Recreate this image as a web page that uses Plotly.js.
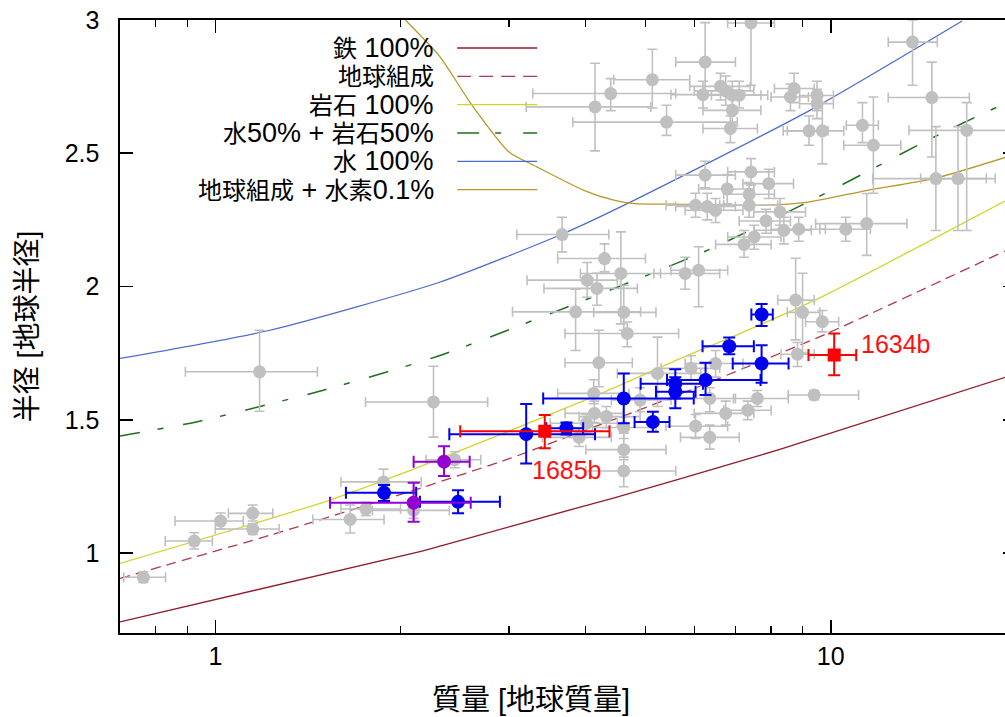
<!DOCTYPE html>
<html>
<head>
<meta charset="utf-8">
<script src="https://cdn.plot.ly/plotly-3.0.1.min.js"></script>
<style>
html,body{margin:0;padding:0;overflow:hidden;background:#fff;}
#chart{width:1016px;height:717px;}
</style>
</head>
<body>
<div id="chart"></div>
<script>
// ---------- model curves ----------
const ironM  = [0.7, 2.15, 2.35, 3.85, 4.42, 7.13, 8.29, 19.3];
const ironR  = [0.742, 1.005, 1.03, 1.168, 1.205, 1.345, 1.39, 1.661];
const earthM = [0.7, 1.24, 2.15, 3.01, 3.68, 5.55, 6.99, 9.87, 19.3];
const earthR = [0.905, 1.07, 1.243, 1.355, 1.43, 1.586, 1.68, 1.824, 2.136];
const rockM  = [0.7, 1.536, 2.15, 4.11, 5.62, 7.13, 9.8, 19.3];
const rockR  = [0.961, 1.199, 1.324, 1.586, 1.724, 1.824, 1.968, 2.324];
const w50M   = [0.7, 0.931, 1.498, 2.35, 6.22, 9.54, 14.72, 19.3];
const w50R   = [1.439, 1.492, 1.611, 1.746, 2.13, 2.336, 2.561, 2.69];
const waterM = [0.7, 1.227, 2.32, 3.68, 4.67, 9.25, 16.35];
const waterR = [1.73, 1.836, 2.017, 2.199, 2.311, 2.661, 2.996];
const hydroM = [2.036, 2.32, 2.6, 3.0, 3.33, 3.97, 4.44, 4.79, 5.56, 7.78, 9.2, 11.47, 14.71, 19.3];
const hydroR = [3.0, 2.861, 2.6875, 2.505, 2.449, 2.361, 2.324, 2.311, 2.309, 2.305, 2.317, 2.361, 2.405, 2.486];

const curveNames = ['鉄 100%', '地球組成', '岩石 100%', '水50% + 岩石50%', '水 100%', '地球組成 + 水素0.1%'];

// ---------- known planets (grey) ----------
const greyM   = [0.764,0.924,1.02,1.15,1.15,1.18,1.656,1.756,1.876,2.1,2.262,2.45,3.66,4.29,4.56,4.02,4.17,3.85,4.61,4.67,4.2,5.23,4.12,4.13,4.32,4.01,4.61,4.61,4.61,3.9,4.9,5.8,6.1,5.93,6.5,6.36,6.75,6.03,6.36,7.33,7.6,8.83,9.4,9.69,8.77,9.0,11.44,10.58,8.87,8.39,14.82,16.1,7.85,8.27,7.42,7.93,7.37,6.79,6.25,6.3,6.5,6.03,7.37,7.23,7.51,7.42,13.58,14.6,16.63,11.73,11.26,9.22,9.69,9.5,9.5,8.72,8.6,6.25,5.13,4.39,4.14,5.41,6.2,6.62,6.75,6.92,7.1,6.92,6.87];
const greyR   = [0.909,1.045,1.12,1.149,1.09,1.68,1.126,1.165,1.267,1.16,1.567,1.35,2.195,2.105,2.049,2.024,1.993,1.905,1.903,1.824,1.714,1.674,1.599,1.524,1.512,1.487,1.471,1.388,1.308,1.434,1.574,2.049,2.061,1.693,1.711,1.58,1.524,1.476,1.434,1.536,1.58,1.746,1.593,1.868,1.949,1.903,2.236,2.215,2.215,2.211,2.405,2.405,2.246,2.28,2.43,2.386,2.346,2.366,2.418,2.3,2.286,2.305,2.305,2.158,2.186,2.989,2.917,2.709,2.586,2.53,2.605,2.584,2.584,2.717,2.686,2.743,2.711,2.842,2.776,2.724,2.674,2.617,2.72,2.751,2.734,2.718,2.718,2.661,2.593];
const greyMlo = [0.71,0.829,0.86,1.05,1.0,0.894,1.44,1.6,1.6,1.8,1.754,2.2,3.09,3.6,3.92,3.21,3.42,3.04,4.12,3.7,3.7,4.5,3.6,3.7,3.9,3.5,4.1,4.0,4.0,3.4,4.4,5.16,5.5,5.3,5.8,5.6,6.0,5.4,5.7,6.7,6.95,8.3,8.53,9.1,8.2,8.5,9.45,9.6,8.0,7.5,11.7,14.0,7.1,7.5,6.8,7.2,6.7,6.1,5.6,5.6,5.8,5.4,6.6,6.5,6.8,6.8,12.4,12.4,13.4,10.5,10.6,8.5,8.37,8.9,8.9,8.1,8.0,5.6,4.44,3.28,3.2,3.81,5.5,5.9,6.0,6.2,6.4,6.2,6.2];
const greyMhi = [0.83,0.989,1.11,1.24,1.27,1.465,1.88,2.0,2.16,2.4,2.77,2.7,4.36,5.0,5.29,4.5,4.85,4.91,5.2,5.66,4.76,6.15,4.7,4.6,4.9,4.5,5.2,5.4,5.6,4.4,5.5,6.6,6.8,6.6,7.2,7.0,7.5,6.8,7.1,8.0,8.53,9.4,11.1,10.3,9.4,9.6,13.3,11.6,9.8,9.3,17.9,18.5,8.6,9.1,8.1,8.7,8.1,7.5,7.0,7.0,7.2,6.7,8.2,8.0,8.3,8.1,14.9,16.8,20,13.0,11.95,9.9,10.5,10.1,10.1,9.4,9.2,7.0,5.9,5.6,5.1,7.05,7.0,7.4,7.5,7.7,7.9,7.7,7.6];
const greyRlo = [0.89,1.015,1.09,1.12,1.07,1.532,1.075,1.14,1.22,1.13,1.435,1.32,2.13,2.055,1.86,1.96,1.93,1.76,1.836,1.774,1.624,1.55,1.56,1.49,1.47,1.45,1.43,1.35,1.249,1.40,1.53,1.99,1.924,1.65,1.66,1.53,1.48,1.43,1.39,1.50,1.55,1.70,1.575,1.83,1.80,1.75,2.117,2.17,2.17,2.16,2.21,2.21,2.20,2.23,2.38,2.33,2.30,2.31,2.37,2.25,2.24,2.26,2.26,2.11,2.14,2.755,2.755,2.486,2.21,2.35,2.54,2.53,2.46,2.66,2.63,2.69,2.66,2.72,2.67,2.66,2.509,2.567,2.67,2.70,2.68,2.67,2.67,2.61,2.54];
const greyRhi = [0.93,1.076,1.15,1.18,1.11,1.836,1.18,1.19,1.315,1.19,1.701,1.38,2.26,2.16,2.205,2.09,2.05,1.99,2.005,1.867,1.836,1.81,1.65,1.57,1.55,1.52,1.51,1.45,1.36,1.47,1.62,2.11,2.149,1.74,1.76,1.62,1.57,1.52,1.48,1.57,1.61,1.79,1.61,1.91,2.106,2.05,2.349,2.26,2.26,2.26,2.6,2.6,2.29,2.33,2.48,2.44,2.39,2.42,2.47,2.35,2.33,2.35,2.35,2.21,2.23,3.1,3.0,2.842,2.69,2.711,2.69,2.64,2.69,2.77,2.74,2.80,2.76,2.99,2.89,2.78,2.838,2.68,2.77,2.80,2.79,2.77,2.77,2.71,2.64];

// ---------- highlighted planets ----------
const blueM   = [1.88,2.48,3.2,3.72,4.61,5.14,5.59,5.59,6.26,6.84,7.72,7.72];
const blueR   = [1.226,1.192,1.446,1.468,1.58,1.492,1.635,1.605,1.649,1.776,1.895,1.711];
const blueMlo = [1.63,2.15,2.4,3.45,3.41,4.8,4.91,5.2,5.42,6.19,7.43,6.93];
const blueMhi = [2.12,2.9,4.14,3.96,5.99,5.47,6.2,6.03,7.69,7.5,8.05,8.54];
const blueRlo = [1.195,1.149,1.336,1.445,1.487,1.455,1.58,1.543,1.593,1.746,1.852,1.639];
const blueRhi = [1.255,1.236,1.559,1.49,1.674,1.53,1.69,1.66,1.714,1.809,1.934,1.78];

const purpleM   = [2.1, 2.353];
const purpleR   = [1.189, 1.343];
const purpleMlo = [1.536, 2.1];
const purpleMhi = [2.6, 2.59];
const purpleRlo = [1.117, 1.289];
const purpleRhi = [1.264, 1.401];

const redNames = ['1685b', '1634b'];
const redM   = [3.43, 10.13];
const redR   = [1.457, 1.743];
const redMlo = [2.5, 9.2];
const redMhi = [4.37, 11.0];
const redRlo = [1.393, 1.667];
const redRhi = [1.518, 1.824];

// ---------- axes ----------
const xTickVals = [1, 10];
const xTickText = ['1', '10'];
const xMinorVals = [0.8, 0.9, 2, 3, 4, 5, 6, 7, 8, 9, 20];
const yTickVals = [1, 1.5, 2, 2.5, 3];
const yTickText = ['1', '1.5', '2', '2.5', '3'];
const xTitle = '質量 [地球質量]';
const yTitle = '半径 [地球半径]';

// ---------- build ----------
const MIX = '"Liberation Sans", Arial, "Noto Sans CJK JP", sans-serif';
const LAT = '"Liberation Sans", Arial, sans-serif';
const curveStyles = [
  {color:'#931a2a', dash:'solid', legDash:'solid', width:1.3},
  {color:'#b03a48', dash:'10px,6px', legDash:'14px,8px', width:1.3},
  {color:'#d4d430', dash:'solid', legDash:'solid', width:1.3},
  {color:'#1f6e1f', dash:'20px,18px,6px,20px', legDash:'22px,16px,6px,22px', width:1.5},
  {color:'#4a6ad0', dash:'solid', legDash:'solid', width:1.2},
  {color:'#b8982a', dash:'solid', legDash:'solid', width:1.3}
];
const curves = [[ironM,ironR],[earthM,earthR],[rockM,rockR],[w50M,w50R],[waterM,waterR],[hydroM,hydroR]];

const minus = (v, lo) => v.map((x,i) => x - lo[i]);
const plus  = (v, hi) => v.map((x,i) => hi[i] - x);

function pts(M, R, Mlo, Mhi, Rlo, Rhi, color, size, symbol, thick, cap) {
  return {
    type:'scatter', mode:'markers', x:M, y:R, hoverinfo:'skip', showlegend:false,
    marker:{color:color, size:size, symbol:symbol, line:{width:0}},
    error_x:{type:'data', symmetric:false, array:plus(M,Mhi), arrayminus:minus(M,Mlo), color:color, thickness:thick, width:cap},
    error_y:{type:'data', symmetric:false, array:plus(R,Rhi), arrayminus:minus(R,Rlo), color:color, thickness:thick, width:cap}
  };
}

const traces = [];
curves.forEach((c, i) => {
  traces.push({type:'scatter', mode:'lines', x:c[0], y:c[1], hoverinfo:'skip', showlegend:false,
    line:{color:curveStyles[i].color, dash:curveStyles[i].dash, width:curveStyles[i].width, shape:'spline', smoothing:0.6}});
});
traces.push(pts(greyM, greyR, greyMlo, greyMhi, greyRlo, greyRhi, '#c0c0c0', 13, 'circle', 1.6, 5));
traces.push(pts(blueM, blueR, blueMlo, blueMhi, blueRlo, blueRhi, '#0000f0', 14, 'circle', 2, 6));
traces.push(pts(purpleM, purpleR, purpleMlo, purpleMhi, purpleRlo, purpleRhi, '#9400d3', 14, 'circle', 2, 6));
traces.push(pts(redM, redR, redMlo, redMhi, redRlo, redRhi, '#ff0000', 13, 'square', 2, 6));
// invisible trace carrying the minor-tick axis
traces.push({type:'scatter', mode:'markers', x:[1], y:[1], xaxis:'x2', yaxis:'y', hoverinfo:'skip', showlegend:false, marker:{opacity:0}});

// CJK runs a bit smaller than the Latin text, as in the original key
const mix = s => s.replace(/([\u3000-\u9fff]+)/g, '<span style="font-size:24px">$1</span>');

// key drawn as right-aligned labels + line samples (paper coords)
const annotations = [];
const shapes = [];
const legRow0 = 0.9543, legStep = 0.0462;
curveNames.forEach((name, i) => {
  const y = legRow0 - i * legStep;
  annotations.push({xref:'paper', yref:'paper', x:0.353, y:y, xanchor:'right', yanchor:'middle',
    text:mix(name), showarrow:false, font:{family:MIX, size:27, color:'#000'}});
  shapes.push({type:'line', xref:'paper', yref:'paper', x0:0.3763, x1:0.4656, y0:y, y1:y,
    line:{color:curveStyles[i].color, dash:curveStyles[i].legDash, width:1.3}});
});
// planet labels
const redLabelPos = [{m:3.25, r:1.311}, {m:11.1, r:1.785}];
redNames.forEach((t, i) => {
  annotations.push({xref:'x', yref:'y', x:Math.log10(redLabelPos[i].m), y:redLabelPos[i].r,
    xanchor:'left', yanchor:'middle', text:t, showarrow:false,
    font:{family:LAT, size:25, color:'#ff1010'}});
});
// x-axis title, centred where the original has it
annotations.push({xref:'paper', yref:'paper', x:0.459, y:0, yshift:-67, xanchor:'center', yanchor:'middle',
  text:xTitle, showarrow:false, font:{family:MIX, size:29, color:'#000'}});

const xRange = [Math.log10(0.7), Math.log10(20)];
const layout = {
  width:1016, height:717,
  margin:{l:120, r:0, t:20, b:84},
  paper_bgcolor:'#fff', plot_bgcolor:'#fff',
  showlegend:false,
  hovermode:false,
  xaxis:{
    type:'log', range:xRange,
    tickmode:'array', tickvals:xTickVals, ticktext:xTickText,
    ticks:'inside', ticklen:13, tickwidth:1.6, tickcolor:'#000',
    showline:true, linecolor:'#000', linewidth:1.6, mirror:'ticks',
    showgrid:false, zeroline:false,
    tickfont:{family:LAT, size:25, color:'#000'},
    ticklabelstandoff:0
  },
  xaxis2:{
    type:'log', range:xRange, overlaying:'x', anchor:'y', side:'bottom',
    tickmode:'array', tickvals:xMinorVals, showticklabels:false,
    ticks:'inside', ticklen:7, tickwidth:1.3, tickcolor:'#000',
    showline:true, linecolor:'#000', linewidth:1.6, mirror:'ticks',
    showgrid:false, zeroline:false
  },
  yaxis:{
    range:[0.7, 3],
    tickmode:'array', tickvals:yTickVals, ticktext:yTickText,
    ticks:'inside', ticklen:13, tickwidth:1.6, tickcolor:'#000',
    showline:true, linecolor:'#000', linewidth:1.6, mirror:'ticks',
    showgrid:false, zeroline:false,
    tickfont:{family:LAT, size:25, color:'#000'},
    ticklabelstandoff:14,
    title:{text:yTitle, font:{family:MIX, size:28, color:'#000'}, standoff:19}
  },
  annotations:annotations,
  shapes:shapes
};

Plotly.newPlot('chart', traces, layout, {displayModeBar:false, staticPlot:true});
</script>
</body>
</html>
